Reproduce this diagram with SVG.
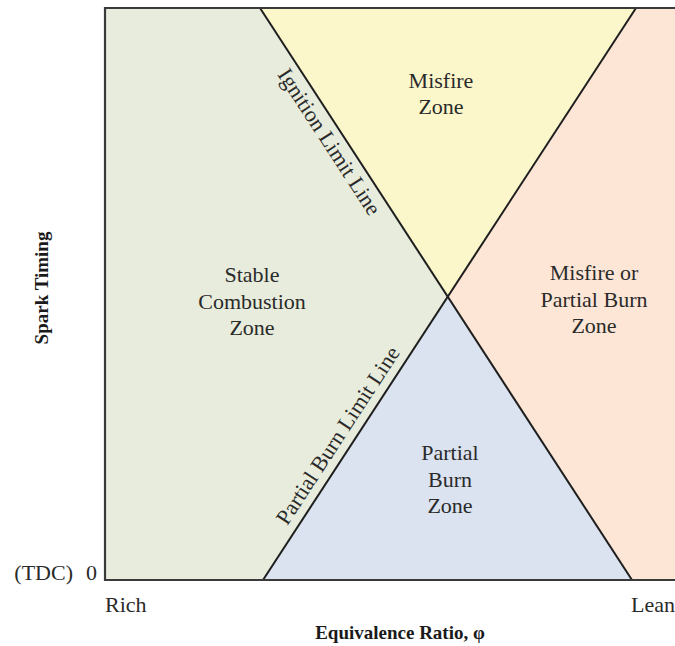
<svg xmlns="http://www.w3.org/2000/svg" width="675" height="646" viewBox="0 0 675 646">
<style>
.t{font-family:"Liberation Serif","Times New Roman",serif;font-size:22px;fill:#2a2a2a;text-anchor:middle}
.b{font-family:"Liberation Serif","Times New Roman",serif;font-size:19px;font-weight:bold;fill:#1a1a1a;text-anchor:middle}
.a{font-family:"Liberation Serif","Times New Roman",serif;font-size:22px;fill:#2a2a2a}
.ln{stroke:#1e1e1e;stroke-width:2;fill:none}
.fr{stroke:#3a3a3a;stroke-width:2.2;fill:none}
</style>
<rect width="675" height="646" fill="#ffffff"/>
<g id="stable">
<polygon points="105,8 260,8 448,297 263,580 105,580" fill="#e7ecdc"/>
<text class="t" x="252" y="282">Stable</text>
<text class="t" x="252" y="309">Combustion</text>
<text class="t" x="252" y="335">Zone</text>
</g>
<g id="misfire">
<polygon points="260,8 636,8 448,297" fill="#fbf7cb"/>
<text class="t" x="441" y="88">Misfire</text>
<text class="t" x="441" y="114">Zone</text>
</g>
<g id="misfire-partial">
<polygon points="636,8 675,8 675,580 632,580 448,297" fill="#fde6d6"/>
<text class="t" x="594" y="280">Misfire or</text>
<text class="t" x="594" y="307">Partial Burn</text>
<text class="t" x="594" y="333">Zone</text>
</g>
<g id="partial">
<polygon points="448,297 632,580 263,580" fill="#dae3ef"/>
<text class="t" x="450" y="460">Partial</text>
<text class="t" x="450" y="487">Burn</text>
<text class="t" x="450" y="513">Zone</text>
</g>
<g id="connectors">
<line class="ln" x1="260" y1="8" x2="632" y2="580"/>
<line class="ln" x1="636" y1="8" x2="263" y2="580"/>
<path class="fr" d="M675,8 H105 V580 H675"/>
</g>
<g id="line-labels">
<text class="t" transform="translate(260,8) rotate(56.96)" x="150" y="22">Ignition Limit Line</text>
<text class="t" transform="translate(263,580) rotate(-56.9)" x="162" y="-9">Partial Burn Limit Line</text>
</g>
<g id="axes">
<text class="b" transform="translate(48,288) rotate(-90)" x="0" y="0">Spark Timing</text>
<text class="b" x="400" y="639">Equivalence Ratio, φ</text>
<text class="a" x="105" y="612">Rich</text>
<text class="a" x="631" y="612">Lean</text>
<text class="a" x="73" y="580" text-anchor="end">(TDC)</text>
<text class="a" x="86" y="580">0</text>
</g>
</svg>
